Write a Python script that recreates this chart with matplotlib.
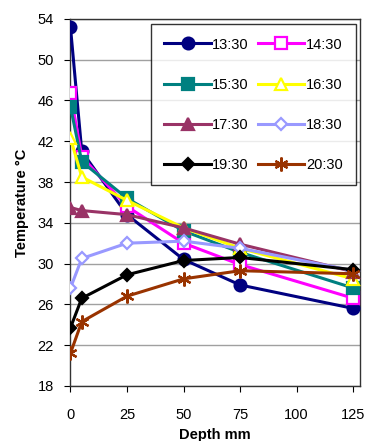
import matplotlib
matplotlib.use("Agg")
import matplotlib.pyplot as plt

depth = [0, 5, 25, 50, 75, 125]
times = ["13:30", "14:30", "15:30", "16:30", "17:30", "18:30", "19:30", "20:30"]
t1330 = [53.2, 41.0, 34.8, 30.4, 27.9, 25.6]
t1430 = [46.7, 40.5, 35.6, 32.0, 29.9, 26.6]
t1530 = [45.4, 40.0, 36.4, 33.2, 31.1, 27.6]
t1630 = [42.3, 38.5, 36.2, 33.5, 31.5, 28.5]
t1730 = [35.5, 35.2, 34.8, 33.5, 31.9, 29.2]
t1830 = [27.6, 30.5, 32.0, 32.2, 31.5, 29.3]
t1930 = [23.7, 26.6, 28.9, 30.3, 30.6, 29.4]
t2030 = [21.2, 24.3, 26.8, 28.5, 29.3, 29.0]
series = [t1330, t1430, t1530, t1630, t1730, t1830, t1930, t2030]

colors = ["#000080", "#FF00FF", "#008080", "#FFFF00",
          "#993366", "#9999FF", "#000000", "#993300"]
markers = ["o", "s", "s", "^", "^", "D", "D", (6, 2, 0)]
filled = [True, False, True, False, True, False, True, True]
sizes = [8.5, 8, 8, 8, 8, 6, 6, 10]

plt.rcParams["font.family"] = ["Liberation Sans", "DejaVu Sans"]

fig = plt.figure(figsize=(3.67, 4.41), dpi=100)
ax = fig.add_axes([0.192, 0.125, 0.789, 0.832])

lines = []
for name, vals, c, m, f, s in zip(times, series, colors, markers, filled, sizes):
    ln, = ax.plot(depth, vals, color=c, lw=2.2, marker=m, ms=s,
                  mfc=c if f else "white", mec=c,
                  mew=1.6, label=name, zorder=3)
    lines.append(ln)

ax.set_xlim(0, 128)
ax.set_ylim(18, 54)
ax.set_xticks([0, 25, 50, 75, 100, 125])
ax.set_yticks(range(18, 55, 4))
ax.yaxis.grid(True, color="#a0a0a0", lw=1)
ax.set_axisbelow(True)
for sp in ax.spines.values():
    sp.set_color("#333333")
    sp.set_linewidth(1)
ax.tick_params(labelsize=10.5, length=4, direction="out", pad=8)
ax.tick_params(axis="x", pad=12)
ax.set_xlabel("Depth mm", fontsize=10.5, fontweight="bold", labelpad=4)
ax.set_ylabel("Temperature \u00b0C", fontsize=10.5, fontweight="bold", labelpad=6)

# row-wise order in a 2-column legend
order = [0, 2, 4, 6, 1, 3, 5, 7]
leg = ax.legend([lines[i] for i in order], [times[i] for i in order],
                ncol=2, loc="upper right", bbox_to_anchor=(0.985, 0.985),
                fontsize=10.5, frameon=True, fancybox=False, edgecolor="black",
                handlelength=3.2, columnspacing=0.6, labelspacing=1.8,
                handletextpad=0.1, borderpad=0.9, borderaxespad=0)
leg.get_frame().set_linewidth(1)

fig.savefig("out.png", dpi=100)
